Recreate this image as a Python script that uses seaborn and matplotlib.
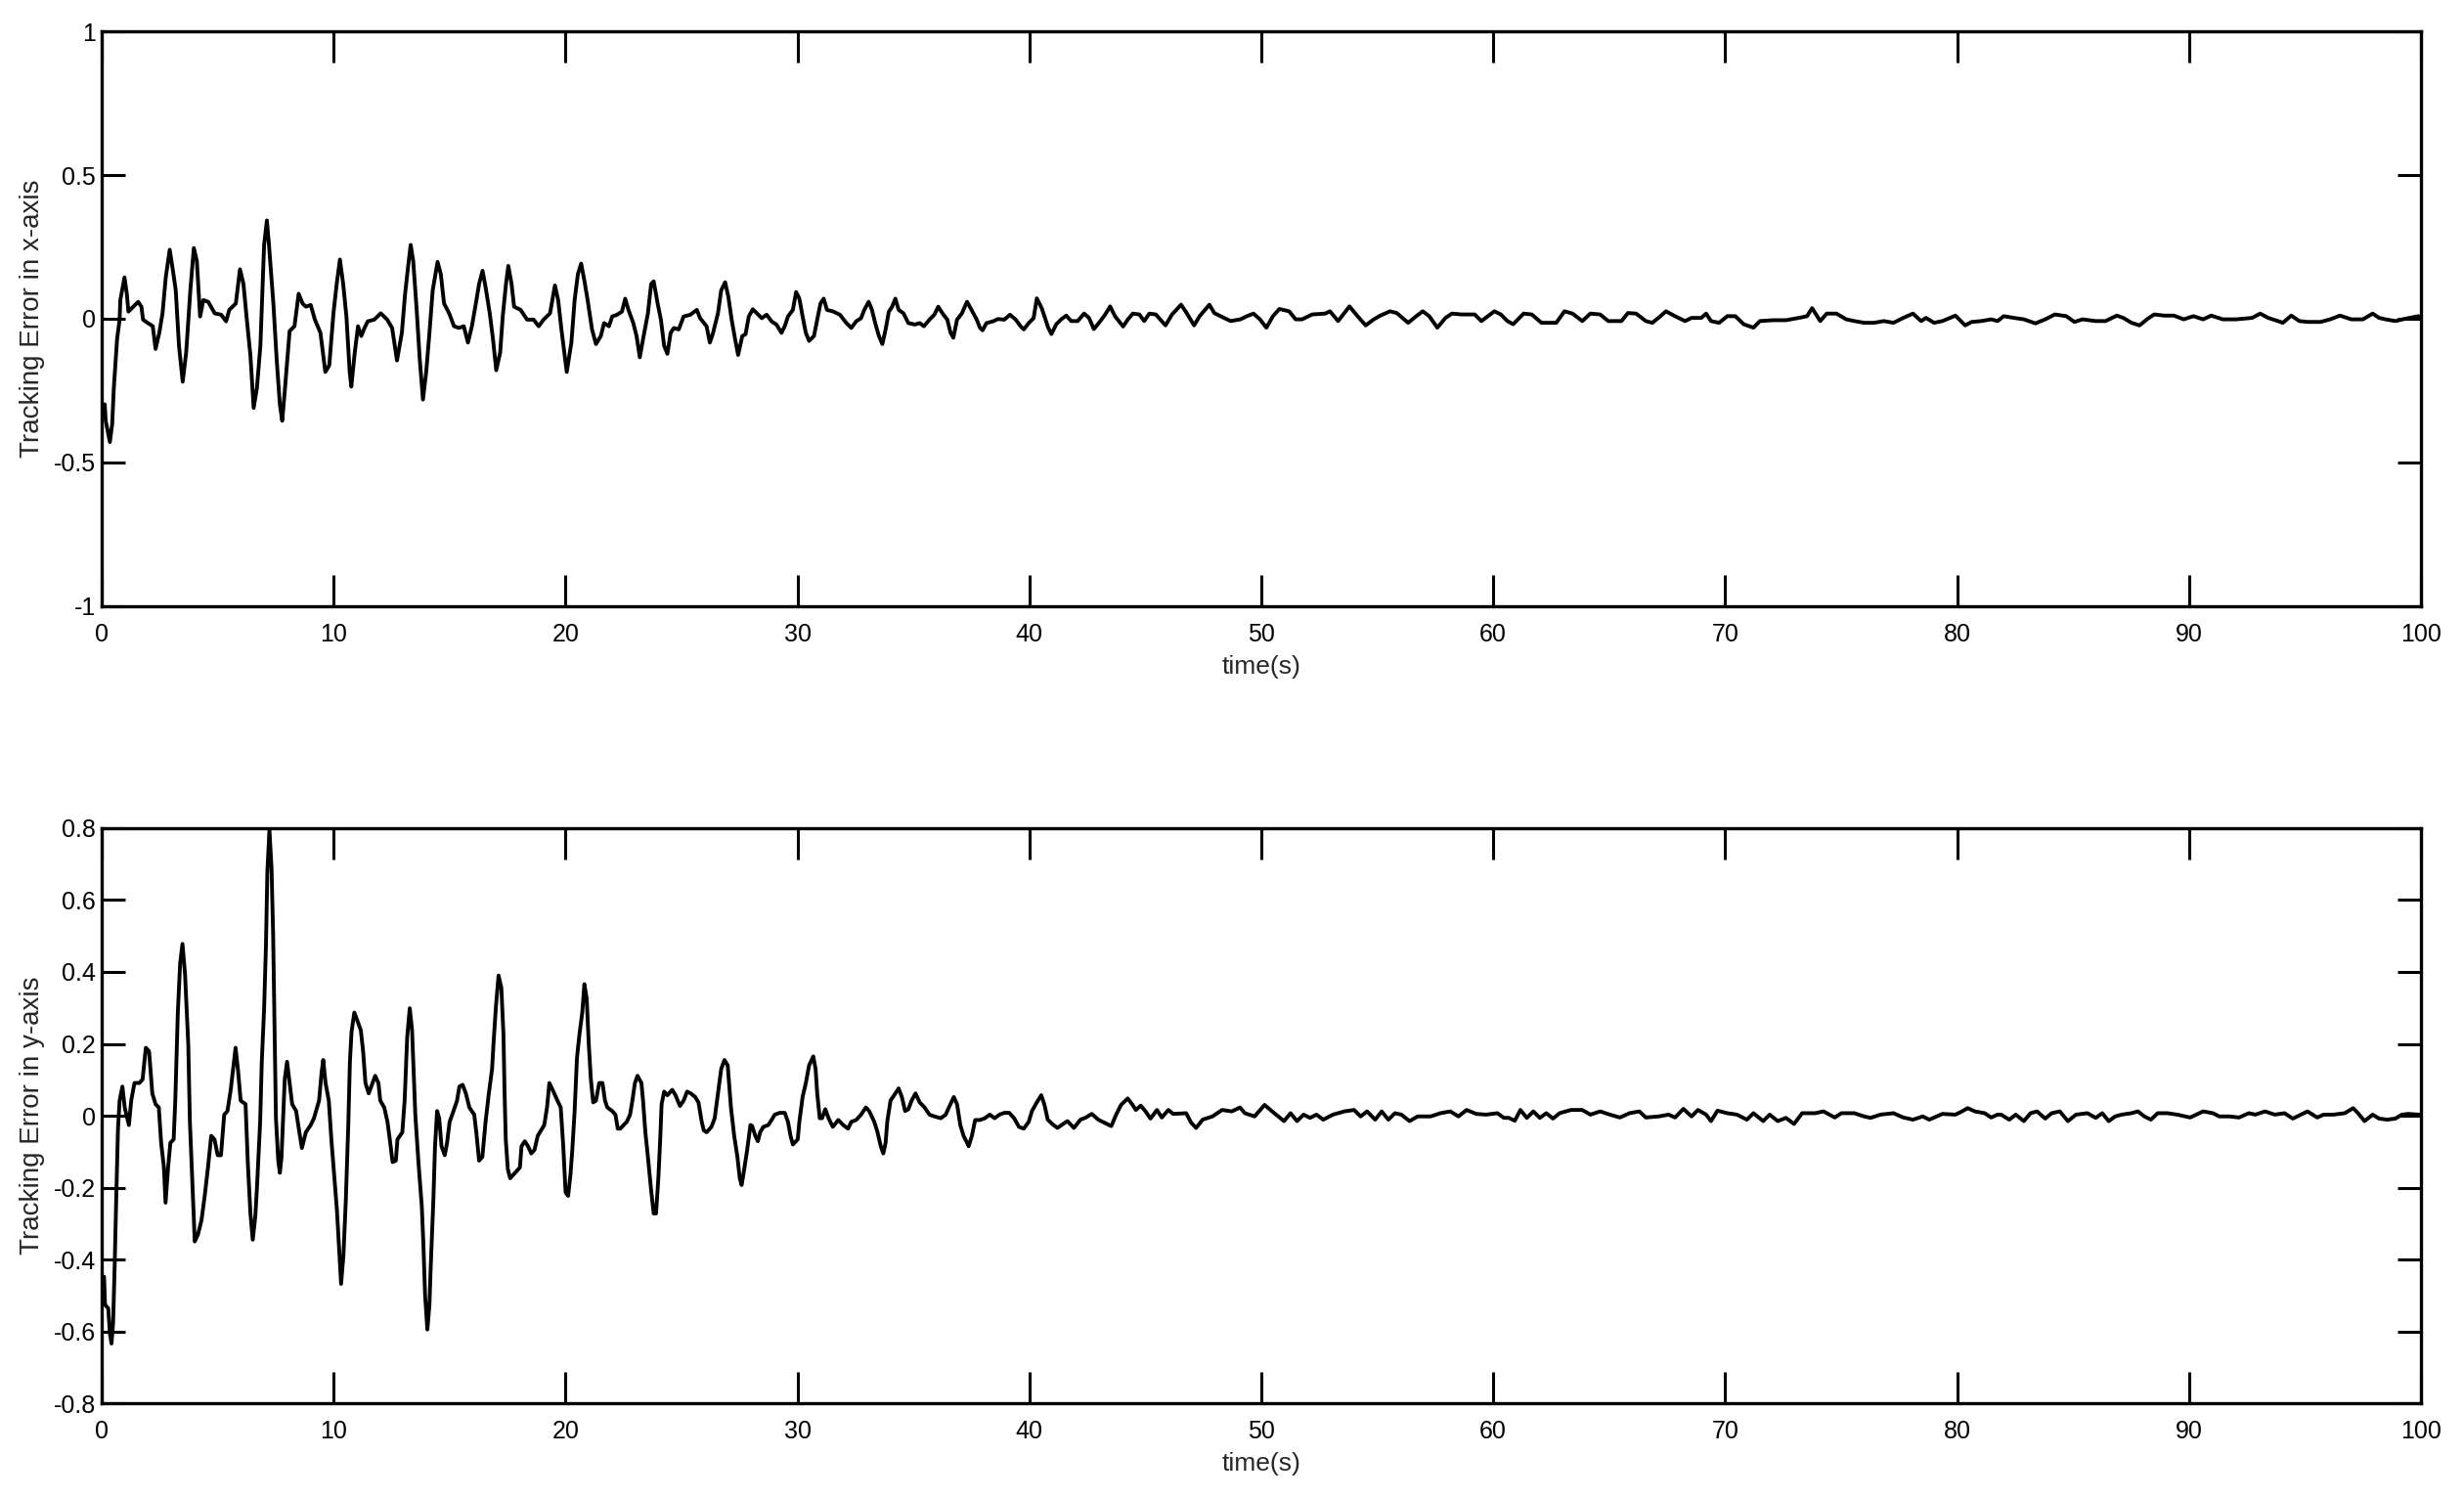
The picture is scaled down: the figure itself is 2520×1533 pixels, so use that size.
import numpy as np
import pandas as pd
import matplotlib
matplotlib.use("Agg")
import matplotlib.pyplot as plt
import seaborn as sns

# Tracking error in x, first 40 s (transient part)
time_x_early = [
    0.00, 0.13, 0.17, 0.35, 0.45, 0.52, 0.66, 0.77, 0.80, 0.98, 1.08, 1.15, 1.36, 1.57, 1.71, 1.78,
    1.99, 2.20, 2.32, 2.48, 2.62, 2.76, 2.93, 3.07, 3.19, 3.33, 3.49, 3.64, 3.82, 3.97, 4.10, 4.24,
    4.38, 4.59, 4.87, 5.15, 5.36, 5.50, 5.78, 5.96, 6.11, 6.27, 6.41, 6.55, 6.69, 6.84, 7.00, 7.12,
    7.21, 7.40, 7.54, 7.68, 7.78, 7.89, 8.10, 8.31, 8.49, 8.66, 8.80, 9.01, 9.19, 9.43, 9.64, 9.81,
    9.99, 10.13, 10.27, 10.41, 10.55, 10.69, 10.76, 10.91, 11.05, 11.19, 11.33, 11.47, 11.75, 12.03,
    12.31, 12.52, 12.73, 12.94, 13.08, 13.22, 13.32, 13.43, 13.57, 13.71, 13.85, 13.99, 14.13, 14.27,
    14.48, 14.62, 14.76, 14.98, 15.19, 15.40, 15.61, 15.79, 15.96, 16.13, 16.27, 16.42, 16.55, 16.73,
    16.87, 17.01, 17.18, 17.29, 17.43, 17.53, 17.67, 17.78, 18.06, 18.34, 18.62, 18.84, 19.05, 19.33,
    19.54, 19.68, 19.82, 20.05, 20.25, 20.39, 20.53, 20.67, 20.81, 20.95, 21.14, 21.31, 21.52, 21.66,
    21.87, 22.01, 22.22, 22.43, 22.57, 22.71, 22.92, 23.06, 23.20, 23.34, 23.55, 23.69, 23.80, 23.97,
    24.11, 24.25, 24.39, 24.53, 24.67, 24.88, 25.09, 25.38, 25.66, 25.80, 26.08, 26.22, 26.36, 26.57,
    26.71, 26.88, 27.02, 27.16, 27.31, 27.44, 27.62, 27.76, 27.90, 28.07, 28.25, 28.46, 28.67, 28.88,
    29.09, 29.31, 29.45, 29.59, 29.80, 29.94, 30.08, 30.22, 30.36, 30.50, 30.71, 30.85, 30.99, 31.13,
    31.27, 31.55, 31.83, 32.11, 32.32, 32.53, 32.74, 32.88, 33.07, 33.21, 33.35, 33.51, 33.66, 33.80,
    33.94, 34.08, 34.22, 34.36, 34.57, 34.78, 35.06, 35.27, 35.45, 35.69, 35.90, 36.07, 36.25, 36.46,
    36.60, 36.72, 36.88, 37.09, 37.31, 37.47, 37.73, 37.87, 37.98, 38.15, 38.43, 38.64, 38.92, 39.16,
    39.41, 39.62, 39.76, 39.97, 40.18,
]
err_x_early = [
    -0.300, -0.298, -0.355, -0.429, -0.366, -0.241, -0.071, -0.003, 0.065, 0.144, 0.087, 0.025, 0.042, 0.059, 0.042, -0.003,
    -0.015, -0.026, -0.105, -0.049, 0.019, 0.144, 0.240, 0.167, 0.099, -0.094, -0.219, -0.117, 0.099, 0.246, 0.201, 0.008,
    0.065, 0.059, 0.019, 0.014, -0.009, 0.031, 0.053, 0.172, 0.121, -0.015, -0.128, -0.310, -0.241, -0.094, 0.257, 0.342,
    0.257, 0.053, -0.139, -0.298, -0.355, -0.253, -0.043, -0.026, 0.087, 0.053, 0.042, 0.048, -0.003, -0.049, -0.185, -0.162,
    0.019, 0.121, 0.206, 0.121, 0.008, -0.185, -0.236, -0.117, -0.026, -0.060, -0.032, -0.009, -0.003, 0.019,
    -0.003, -0.032, -0.145, -0.049, 0.087, 0.189, 0.257, 0.201, 0.042, -0.139, -0.281, -0.185, -0.049, 0.099,
    0.198, 0.155, 0.053, 0.019, -0.026, -0.032, -0.026, -0.083, -0.026, 0.053, 0.121, 0.167, 0.110, 0.019,
    -0.071, -0.179, -0.117, 0.008, 0.121, 0.184, 0.121, 0.042, 0.031, -0.003, -0.003, -0.026, -0.003, 0.019,
    0.116, 0.065, -0.037, -0.185, -0.083, 0.065, 0.155, 0.192, 0.133, 0.065, -0.037, -0.088, -0.060, -0.015,
    -0.026, 0.008, 0.014, 0.025, 0.070, 0.031, -0.015, -0.060, -0.134, -0.071, 0.019, 0.121, 0.130, 0.053,
    -0.003, -0.094, -0.122, -0.049, -0.032, -0.037, 0.008, 0.014, 0.031, 0.002, -0.026, -0.083, -0.049, 0.019,
    0.099, 0.127, 0.076, -0.003, -0.071, -0.126, -0.060, -0.054, 0.008, 0.033, 0.019, 0.002, 0.014, -0.009,
    -0.020, -0.049, -0.026, 0.008, 0.031, 0.093, 0.070, 0.008, -0.049, -0.077, -0.060, -0.003, 0.053, 0.070,
    0.031, 0.025, 0.014, -0.015, -0.032, -0.009, 0.002, 0.031, 0.059, 0.031, -0.015, -0.060, -0.088, -0.037,
    0.025, 0.042, 0.070, 0.031, 0.019, -0.015, -0.020, -0.015, -0.026, -0.003, 0.014, 0.042, 0.019, -0.003,
    -0.049, -0.066, -0.003, 0.019, 0.059, 0.036, -0.003, -0.032, -0.040, -0.015, -0.009, -0.001, -0.003, 0.014,
    -0.003, -0.026, -0.037, -0.015, 0.002,
]

# Tracking error in x, 40 s to 100 s (settled part)
time_x_late = [
    40.32, 40.53, 40.67, 40.81, 40.95, 41.16, 41.37, 41.59, 41.80, 42.08, 42.36, 42.57, 42.78, 43.06,
    43.27, 43.48, 43.69, 44.04, 44.25, 44.46, 44.74, 44.95, 45.17, 45.45, 45.87, 46.15, 46.54, 46.78,
    47.10, 47.34, 47.76, 47.97, 48.39, 48.68, 49.10, 49.38, 49.66, 49.94, 50.22, 50.50, 50.78, 51.20,
    51.48, 51.76, 52.19, 52.75, 52.96, 53.31, 53.80, 54.15, 54.50, 54.85, 55.13, 55.55, 55.84, 56.33,
    56.68, 56.96, 57.24, 57.59, 57.94, 58.22, 58.64, 59.20, 59.49, 59.77, 60.05, 60.33, 60.61, 60.86,
    61.31, 61.66, 62.08, 62.44, 62.72, 63.07, 63.42, 63.84, 64.19, 64.61, 64.96, 65.53, 65.81, 66.16,
    66.58, 66.86, 67.21, 67.45, 67.84, 68.27, 68.55, 68.97, 69.18, 69.39, 69.74, 70.09, 70.44, 70.80,
    71.22, 71.50, 72.06, 72.62, 73.18, 73.53, 73.75, 74.10, 74.38, 74.80, 75.22, 75.57, 76.00, 76.42,
    76.84, 77.26, 77.68, 78.10, 78.45, 78.66, 79.01, 79.37, 79.93, 80.35, 80.63, 81.05, 81.47, 81.75,
    82.01, 82.46, 82.88, 83.38, 83.80, 84.22, 84.71, 85.06, 85.41, 85.98, 86.40, 86.89, 87.17, 87.52,
    87.87, 88.22, 88.50, 88.93, 89.35, 89.77, 90.19, 90.61, 90.96, 91.46, 92.02, 92.72, 93.07, 93.42,
    93.84, 94.05, 94.41, 94.76, 95.11, 95.67, 96.09, 96.51, 97.00, 97.50, 97.92, 98.20, 98.48, 98.90,
    99.32, 99.89, 100.00,
]
err_x_late = [
    0.071, 0.037, 0.003, -0.031, -0.053, -0.019, -0.002, 0.011, -0.008, -0.008, 0.018, 0.003, -0.036, -0.008,
    0.015, 0.043, 0.009, -0.027, -0.002, 0.018, 0.015, -0.008, 0.018, 0.015, -0.023, 0.015, 0.049, 0.020,
    -0.023, 0.009, 0.049, 0.020, 0.003, -0.008, -0.002, 0.009, 0.018, -0.002, -0.031, 0.009, 0.034, 0.026,
    -0.002, -0.002, 0.015, 0.018, 0.026, -0.008, 0.043, 0.009, -0.023, -0.002, 0.011, 0.026, 0.020, -0.014,
    0.009, 0.026, 0.009, -0.031, 0.003, 0.018, 0.015, 0.015, -0.008, 0.009, 0.026, 0.015, -0.008, -0.019,
    0.018, 0.015, -0.014, -0.014, -0.014, 0.026, 0.018, -0.008, 0.018, 0.015, -0.008, -0.008, 0.020, 0.018,
    -0.008, -0.014, 0.009, 0.026, 0.009, -0.008, 0.003, 0.003, 0.018, -0.008, -0.014, 0.009, 0.009, -0.019,
    -0.031, -0.008, -0.005, -0.005, 0.003, 0.009, 0.037, -0.008, 0.018, 0.018, -0.002, -0.008, -0.014, -0.014,
    -0.008, -0.014, 0.003, 0.018, -0.008, 0.003, -0.014, -0.008, 0.011, -0.023, -0.011, -0.008, -0.002, -0.008,
    0.009, 0.003, -0.002, -0.016, -0.002, 0.015, 0.009, -0.011, -0.002, -0.008, -0.008, 0.011, 0.003, -0.014,
    -0.023, 0.000, 0.015, 0.011, 0.011, -0.002, 0.009, -0.002, 0.011, -0.002, -0.002, 0.003, 0.018, 0.003,
    -0.008, -0.014, 0.011, -0.008, -0.011, -0.011, -0.002, 0.011, -0.002, -0.002, 0.018, 0.003, -0.002, -0.008,
    0.000, 0.009, 0.005,
]

# Tracking error in y, first 40 s (transient part)
time_y_early = [
    0.00, 0.10, 0.14, 0.28, 0.35, 0.42, 0.49, 0.56, 0.63, 0.70, 0.77, 0.89, 0.99, 1.17, 1.27, 1.41,
    1.62, 1.76, 1.90, 2.04, 2.18, 2.32, 2.46, 2.56, 2.68, 2.75, 2.86, 2.96, 3.10, 3.17, 3.28, 3.38,
    3.48, 3.59, 3.73, 3.80, 3.90, 4.01, 4.15, 4.30, 4.44, 4.58, 4.72, 4.86, 5.00, 5.14, 5.28, 5.42,
    5.56, 5.68, 5.77, 5.87, 5.99, 6.20, 6.30, 6.41, 6.51, 6.62, 6.69, 6.83, 6.90, 7.00, 7.08, 7.14,
    7.23, 7.32, 7.39, 7.46, 7.51, 7.61, 7.68, 7.75, 7.82, 7.89, 7.99, 8.10, 8.21, 8.38, 8.52, 8.63,
    8.80, 9.01, 9.15, 9.37, 9.48, 9.55, 9.65, 9.79, 9.90, 10.00, 10.14, 10.24, 10.32, 10.42, 10.52, 10.63,
    10.70, 10.77, 10.89, 11.03, 11.17, 11.27, 11.37, 11.51, 11.62, 11.79, 11.93, 12.01, 12.18, 12.32,
    12.42, 12.54, 12.68, 12.75, 12.96, 13.06, 13.17, 13.28, 13.38, 13.52, 13.66, 13.80, 13.87, 13.94,
    14.04, 14.13, 14.18, 14.30, 14.37, 14.46, 14.55, 14.65, 14.79, 14.89, 15.00, 15.14, 15.32, 15.42,
    15.56, 15.70, 15.85, 16.06, 16.15, 16.27, 16.41, 16.55, 16.69, 16.83, 16.90, 17.00, 17.11, 17.23,
    17.32, 17.37, 17.42, 17.51, 17.61, 17.82, 18.03, 18.10, 18.24, 18.38, 18.52, 18.66, 18.80, 18.94,
    19.08, 19.20, 19.30, 19.44, 19.65, 19.79, 19.90, 20.00, 20.11, 20.21, 20.29, 20.39, 20.49, 20.60,
    20.72, 20.81, 20.91, 21.00, 21.09, 21.19, 21.31, 21.45, 21.59, 21.70, 21.80, 22.01, 22.15, 22.25,
    22.36, 22.50, 22.64, 22.78, 22.88, 22.99, 23.10, 23.27, 23.34, 23.44, 23.55, 23.69, 23.80, 23.90,
    24.00, 24.08, 24.14, 24.25, 24.39, 24.60, 24.74, 24.93, 25.09, 25.24, 25.40, 25.59, 25.73, 25.87,
    25.96, 26.08, 26.29, 26.43, 26.57, 26.71, 26.85, 26.99, 27.06, 27.13, 27.27, 27.41, 27.51, 27.59,
    27.69, 27.83, 27.97, 28.04, 28.18, 28.29, 28.39, 28.53, 28.74, 28.88, 29.02, 29.24, 29.45, 29.59,
    29.70, 29.80, 30.01, 30.08, 30.22, 30.36, 30.50, 30.68, 30.78, 30.85, 30.96, 31.06, 31.20, 31.34,
    31.52, 31.76, 31.97, 32.18, 32.32, 32.53, 32.74, 32.95, 33.09, 33.31, 33.45, 33.59, 33.70, 33.80,
    33.87, 34.01, 34.22, 34.36, 34.50, 34.64, 34.78, 34.92, 35.09, 35.27, 35.48, 35.69, 35.90, 36.18,
    36.39, 36.53, 36.74, 36.88, 37.02, 37.16, 37.31, 37.38, 37.52, 37.66, 37.87, 38.08, 38.29, 38.50,
    38.71, 38.92, 39.13, 39.34, 39.55, 39.76, 39.97, 40.11, 40.32,
]
err_y_early = [
    -0.450, -0.448, -0.526, -0.536, -0.605, -0.634, -0.575, -0.409, -0.213, -0.036, 0.042, 0.081, 0.023, -0.026, 0.042, 0.091,
    0.091, 0.101, 0.189, 0.179, 0.062, 0.032, 0.023, -0.075, -0.144, -0.242, -0.144, -0.075, -0.066, 0.042, 0.287, 0.425,
    0.478, 0.395, 0.199, -0.017, -0.178, -0.350, -0.330, -0.291, -0.223, -0.144, -0.056, -0.066, -0.110, -0.110, 0.003, 0.013,
    0.072, 0.140, 0.189, 0.130, 0.042, 0.032, -0.134, -0.272, -0.345, -0.281, -0.203, -0.017, 0.150, 0.297, 0.474, 0.679,
    0.795, 0.689, 0.503, 0.214, -0.007, -0.125, -0.159, -0.115, -0.007, 0.101, 0.150, 0.091, 0.032, 0.013, -0.046, -0.090,
    -0.046, -0.026, -0.007, 0.042, 0.121, 0.155, 0.091, 0.042, -0.066, -0.149, -0.262, -0.379, -0.468, -0.389, -0.242, -0.026,
    0.150, 0.233, 0.287, 0.263, 0.238, 0.179, 0.091, 0.062, 0.081, 0.111, 0.091, 0.042, 0.023, -0.017,
    -0.066, -0.129, -0.125, -0.066, -0.046, 0.042, 0.219, 0.299, 0.238, 0.003, -0.134, -0.252, -0.360, -0.497,
    -0.595, -0.526, -0.428, -0.232, -0.085, 0.013, -0.007, -0.085, -0.110, -0.075, -0.017, 0.008, 0.042, 0.081,
    0.086, 0.062, 0.023, 0.003, -0.046, -0.125, -0.115, -0.017, 0.062, 0.130, 0.209, 0.307, 0.390, 0.356,
    0.228, 0.062, -0.066, -0.149, -0.174, -0.159, -0.144, -0.085, -0.071, -0.085, -0.105, -0.095, -0.056, -0.041,
    -0.026, 0.023, 0.091, 0.072, 0.042, 0.023, -0.085, -0.213, -0.223, -0.164, -0.095, 0.013, 0.160, 0.228,
    0.287, 0.366, 0.326, 0.199, 0.101, 0.037, 0.042, 0.091, 0.091, 0.042, 0.023, 0.013, 0.003, -0.036,
    -0.036, -0.026, -0.017, 0.003, 0.042, 0.091, 0.111, 0.091, 0.042, -0.046, -0.115, -0.208, -0.272, -0.272,
    -0.174, -0.066, 0.032, 0.067, 0.057, 0.072, 0.057, 0.027, 0.042, 0.067, 0.062, 0.052, 0.037, -0.017,
    -0.041, -0.046, -0.031, -0.007, 0.062, 0.130, 0.155, 0.140, 0.081, 0.023, -0.056, -0.115, -0.174, -0.193,
    -0.154, -0.095, -0.026, -0.028, -0.056, -0.071, -0.046, -0.031, -0.026, -0.012, 0.003, 0.008, 0.008, -0.017,
    -0.056, -0.080, -0.066, -0.017, 0.052, 0.091, 0.140, 0.165, 0.130, 0.062, -0.007, -0.007, 0.018, -0.007,
    -0.031, -0.012, -0.026, -0.036, -0.017, -0.012, 0.003, 0.023, 0.013, -0.017, -0.046, -0.085, -0.105, -0.075,
    -0.017, 0.042, 0.062, 0.076, 0.052, 0.013, 0.018, 0.042, 0.062, 0.037, 0.023, 0.003, -0.002, -0.007,
    0.003, 0.023, 0.052, 0.032, -0.026, -0.056, -0.075, -0.085, -0.056, -0.012, -0.012, -0.007, 0.003, -0.007,
    0.003, 0.008, 0.008, -0.007, -0.031, -0.036, -0.017, 0.013, 0.037,
]

# Tracking error in y, 40 s to 100 s (settled part)
time_y_late = [
    40.51, 40.65, 40.79, 41.00, 41.21, 41.43, 41.64, 41.92, 42.20, 42.41, 42.69, 42.97, 43.25, 43.53,
    43.74, 43.95, 44.24, 44.45, 44.59, 44.80, 45.01, 45.22, 45.50, 45.71, 45.99, 46.20, 46.76, 46.98,
    47.19, 47.47, 47.89, 48.31, 48.73, 49.08, 49.29, 49.71, 50.14, 50.56, 50.98, 51.26, 51.54, 51.82,
    52.10, 52.38, 52.67, 53.09, 53.58, 54.00, 54.28, 54.56, 54.91, 55.19, 55.48, 55.76, 56.04, 56.39,
    56.74, 57.30, 57.72, 58.15, 58.50, 58.85, 59.27, 59.69, 60.18, 60.46, 60.67, 60.93, 61.17, 61.45,
    61.73, 62.01, 62.29, 62.58, 62.86, 63.35, 63.84, 64.19, 64.61, 65.03, 65.46, 65.88, 66.30, 66.58,
    67.14, 67.56, 67.84, 68.20, 68.55, 68.83, 69.18, 69.39, 69.67, 70.09, 70.51, 70.94, 71.22, 71.64,
    71.92, 72.27, 72.62, 72.97, 73.32, 73.89, 74.24, 74.73, 75.01, 75.57, 75.99, 76.27, 76.70, 77.26,
    77.68, 78.10, 78.52, 78.80, 79.37, 79.93, 80.21, 80.46, 80.77, 81.19, 81.47, 81.75, 81.90, 82.25,
    82.53, 82.88, 83.17, 83.45, 83.80, 84.08, 84.43, 84.78, 85.13, 85.62, 85.98, 86.26, 86.54, 86.82,
    87.10, 87.52, 87.80, 88.08, 88.36, 88.65, 89.07, 89.49, 90.05, 90.61, 91.03, 91.31, 91.74, 92.16,
    92.58, 92.86, 93.28, 93.70, 94.12, 94.48, 94.83, 95.11, 95.53, 95.81, 96.23, 96.72, 97.08, 97.29,
    97.57, 97.92, 98.20, 98.55, 98.90, 99.18, 99.46, 99.89, 100.00,
]
err_y_late = [
    0.057, 0.030, -0.011, -0.024, -0.034, -0.024, -0.015, -0.034, -0.011, -0.006, 0.005, -0.011, -0.020, -0.029,
    0.003, 0.030, 0.048, 0.030, 0.016, 0.028, 0.012, -0.008, 0.016, -0.005, 0.016, 0.005, 0.007, -0.020,
    -0.034, -0.011, -0.002, 0.016, 0.012, 0.023, 0.007, -0.002, 0.030, 0.007, -0.015, 0.007, -0.015, 0.003,
    -0.006, 0.003, -0.011, 0.003, 0.012, 0.016, -0.002, 0.012, -0.011, 0.012, -0.011, 0.007, 0.003, -0.015,
    -0.002, -0.002, 0.007, 0.012, -0.002, 0.016, 0.005, 0.003, 0.007, -0.006, -0.006, -0.014, 0.016, -0.006,
    0.012, -0.006, 0.007, -0.008, 0.007, 0.016, 0.016, 0.003, 0.012, 0.003, -0.005, 0.007, 0.012, -0.005,
    -0.002, 0.003, -0.005, 0.019, -0.002, 0.016, 0.003, -0.015, 0.014, 0.007, 0.003, -0.011, 0.007, -0.015,
    0.003, -0.015, -0.006, -0.023, 0.007, 0.007, 0.012, -0.005, 0.007, 0.007, -0.002, -0.006, 0.003, 0.007,
    -0.005, -0.011, -0.002, -0.011, 0.005, 0.003, 0.012, 0.021, 0.012, 0.007, -0.005, 0.003, 0.003, -0.011,
    0.003, -0.015, 0.007, 0.012, -0.008, 0.007, 0.012, -0.015, 0.003, 0.007, -0.006, 0.007, -0.015, -0.002,
    0.003, 0.007, 0.012, -0.002, -0.011, 0.007, 0.007, 0.003, -0.005, 0.012, 0.007, -0.002, -0.002, -0.005,
    0.007, 0.003, 0.012, 0.003, 0.007, -0.008, 0.003, 0.012, -0.005, 0.003, 0.003, 0.007, 0.021, 0.007,
    -0.015, 0.003, -0.008, -0.011, -0.008, 0.003, 0.005, 0.003, 0.003,
]

# Axis ticks
time_ticks = [0, 10, 20, 30, 40, 50, 60, 70, 80, 90, 100]
time_labels = ["0", "10", "20", "30", "40", "50", "60", "70", "80", "90", "100"]
x_err_ticks = [-1, -0.5, 0, 0.5, 1]
x_err_labels = ["-1", "-0.5", "0", "0.5", "1"]
y_err_ticks = [-0.8, -0.6, -0.4, -0.2, 0, 0.2, 0.4, 0.6, 0.8]
y_err_labels = ["-0.8", "-0.6", "-0.4", "-0.2", "0", "0.2", "0.4", "0.6", "0.8"]

df_x = pd.DataFrame({"time": time_x_early + time_x_late, "error": err_x_early + err_x_late})
df_y = pd.DataFrame({"time": time_y_early + time_y_late, "error": err_y_early + err_y_late})

sns.set_style("white")
plt.rcParams["font.family"] = ["Liberation Sans", "DejaVu Sans"]

fig = plt.figure(figsize=(25.2, 15.33), dpi=100)
ax_top = fig.add_axes([0.0413, 0.5956, 0.9412, 0.3835])
ax_bot = fig.add_axes([0.0413, 0.0639, 0.9412, 0.3836])

panels = [
    (ax_top, df_x, x_err_ticks, x_err_labels, (-1, 1), "Tracking Error in x-axis"),
    (ax_bot, df_y, y_err_ticks, y_err_labels, (-0.8, 0.8), "Tracking Error in y-axis"),
]

for ax, df, yt, yl, ylim, ylabel in panels:
    sns.lineplot(data=df, x="time", y="error", ax=ax, color="black",
                 linewidth=2.8, estimator=None, sort=False)
    ax.set_xlim(0, 100)
    ax.set_ylim(*ylim)
    ax.set_xticks(time_ticks)
    ax.set_xticklabels(time_labels)
    ax.set_yticks(yt)
    ax.set_yticklabels(yl)
    ax.tick_params(axis="x", direction="in", length=23, width=2.2, pad=12,
                   labelsize=18, top=True, bottom=True, colors="black")
    ax.tick_params(axis="y", direction="in", length=17.5, width=2.2, pad=4.5,
                   labelsize=18, left=True, right=True, colors="black")
    for sp in ax.spines.values():
        sp.set_visible(True)
        sp.set_linewidth(2.4)
        sp.set_color("black")
    ax.set_xlabel("time(s)", fontsize=19)
    ax.set_ylabel(ylabel, fontsize=20)
    ax.xaxis.set_label_coords(0.5, -0.085)
    ax.yaxis.set_label_coords(-0.0245, 0.5)
    ax.grid(False)

fig.savefig("out.png", dpi=100, facecolor="white")
